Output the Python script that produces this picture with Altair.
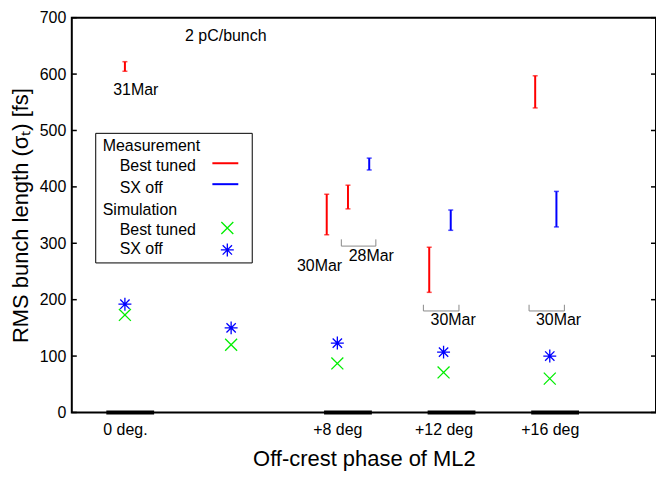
import altair as alt
import pandas as pd

W, H = 586, 396
FONT = "Liberation Sans"

# ---- data ----
sim_phase = [0, 4, 8, 12, 16]
sim_best = [173, 120, 87, 71, 60]
sim_sxoff = [192, 150, 123, 107, 100]

best_x = [0.0, 7.6, 8.4, 11.46, 15.45]
best_lo = [605, 315, 361, 213, 540]
best_hi = [622, 387, 403, 293, 597]

sx_x = [9.2, 12.27, 16.25]
sx_lo = [430, 323, 329]
sx_hi = [451, 359, 392]

bar_start = [-0.7, 7.5, 11.4, 15.3]
bar_end = [1.1, 9.3, 13.2, 17.1]

brk_x1 = [8.15, 11.24, 15.22]
brk_x2 = [9.45, 12.58, 16.55]
brk_lo = [295, 180, 180]
brk_hi = [307, 191, 191]

note_text = ["2 pC/bunch", "31Mar", "30Mar", "28Mar", "30Mar", "30Mar"]
note_x = [3.8, 0.41, 7.33, 9.28, 12.36, 16.33]
note_y = [668, 571, 260, 277.5, 164, 164]

x_tick_vals = [0, 8, 12, 16]
x_tick_labels = ["0 deg.", "+8 deg", "+12 deg", "+16 deg"]
y_tick_vals = [0, 100, 200, 300, 400, 500, 600, 700]

legend_labels = ["Measurement", "Best tuned", "SX off", "Simulation", "Best tuned", "SX off"]

# ---- frames ----
sim_df = pd.DataFrame({"phase": sim_phase, "best": sim_best, "sx": sim_sxoff})
best_df = pd.DataFrame({"x": best_x, "lo": best_lo, "hi": best_hi})
sx_df = pd.DataFrame({"x": sx_x, "lo": sx_lo, "hi": sx_hi})
bar_df = pd.DataFrame({"s": bar_start, "e": bar_end})
brk_df = pd.DataFrame({"x1": brk_x1, "x2": brk_x2, "lo": brk_lo, "hi": brk_hi})
note_df = pd.DataFrame({"t": note_text, "x": note_x, "y": note_y})
ytick_df = pd.DataFrame({"v": y_tick_vals})
one = pd.DataFrame({"_": [0]})

label_expr = " : ".join(
    f"datum.value == {v} ? '{l}'" for v, l in zip(x_tick_vals, x_tick_labels)
) + " : ''"

xscale = alt.Scale(domain=[-2, 20], nice=False, zero=False)
yscale = alt.Scale(domain=[0, 700], nice=False)
xaxis = alt.Axis(values=x_tick_vals, labelExpr=label_expr, ticks=False, tickSize=0,
                 domain=False, grid=False, labelFontSize=16, labelPadding=9,
                 labelColor="black", title="Off-crest phase of ML2", titleFontSize=22,
                 titleFontWeight="normal", titleColor="black", titlePadding=11,
                 labelFont=FONT, titleFont=FONT)
yaxis = alt.Axis(values=y_tick_vals, ticks=False, tickSize=0, domain=False, grid=False,
                 labelFontSize=16, labelPadding=6, labelColor="black",
                 title="RMS bunch length (σₜ) [fs]", titleFontSize=22,
                 titleFontWeight="normal", titleColor="black", titlePadding=7,
                 labelFont=FONT, titleFont=FONT)

def X(f):
    return alt.X(f, type="quantitative", scale=xscale, axis=xaxis)

def Y(f):
    return alt.Y(f, type="quantitative", scale=yscale, axis=yaxis)

layers = []

# inward y ticks on both sides
layers.append(alt.Chart(ytick_df).mark_rule(color="black", strokeWidth=1.5).encode(
    y=Y("v"), x=alt.value(0), x2=alt.value(5)))
layers.append(alt.Chart(ytick_df).mark_rule(color="black", strokeWidth=1.5).encode(
    y=Y("v"), x=alt.value(W - 5), x2=alt.value(W)))

# thick bars on the x axis
layers.append(alt.Chart(bar_df).mark_rule(color="black", strokeWidth=4).encode(
    x=X("s"), x2="e", y=alt.datum(0, scale=yscale, axis=yaxis)))

# brackets
bc = "#8a8a8a"
layers.append(alt.Chart(brk_df).mark_rule(color=bc, strokeWidth=1).encode(
    x=X("x1"), x2="x2", y=Y("lo")))
layers.append(alt.Chart(brk_df).mark_rule(color=bc, strokeWidth=1).encode(
    x=X("x1"), y=Y("lo"), y2="hi"))
layers.append(alt.Chart(brk_df).mark_rule(color=bc, strokeWidth=1).encode(
    x=X("x2"), y=Y("lo"), y2="hi"))

# error bars
for df, col in [(best_df, "#ff0000"), (sx_df, "#0000ff")]:
    layers.append(alt.Chart(df).mark_rule(color=col, strokeWidth=2).encode(
        x=X("x"), y=Y("lo"), y2="hi"))
    for f in ["lo", "hi"]:
        layers.append(alt.Chart(df).mark_tick(color=col, orient="horizontal", size=5,
                                              thickness=1.5).encode(x=X("x"), y=Y(f)))

XSHAPE = "M-1,-1L1,1M-1,1L1,-1"
STAR = "M-1,0L1,0M0,-1L0,1M-0.72,-0.72L0.72,0.72M-0.72,0.72L0.72,-0.72"

layers.append(alt.Chart(sim_df).mark_point(shape=XSHAPE, filled=False, color="#00ee00",
                                           strokeWidth=1.3, size=144, opacity=1).encode(
    x=X("phase"), y=Y("best")))
layers.append(alt.Chart(sim_df).mark_point(shape=STAR, filled=False, color="#0000ff",
                                           strokeWidth=1.3, size=169, opacity=1).encode(
    x=X("phase"), y=Y("sx")))

# annotations
layers.append(alt.Chart(note_df).mark_text(font=FONT, fontSize=16, color="black").encode(
    x=X("x"), y=Y("y"), text="t:N"))

# legend box (pixel layout)
layers.append(alt.Chart(one).mark_rect(fill="white", stroke="black", strokeWidth=1).encode(
    x=alt.value(24), x2=alt.value(181), y=alt.value(116), y2=alt.value(246)))
leg_pos = [(31, 129), (48, 149), (48, 171), (31, 193), (48, 213), (48, 232)]
for lab, (lx, ly) in zip(legend_labels, leg_pos):
    layers.append(alt.Chart(one).mark_text(text=lab, font=FONT, fontSize=16, color="black",
                                           align="left", baseline="middle").encode(
        x=alt.value(lx), y=alt.value(ly)))
layers.append(alt.Chart(one).mark_rule(color="#ff0000", strokeWidth=2).encode(
    x=alt.value(141), x2=alt.value(167), y=alt.value(146)))
layers.append(alt.Chart(one).mark_rule(color="#0000ff", strokeWidth=2).encode(
    x=alt.value(141), x2=alt.value(167), y=alt.value(167)))
layers.append(alt.Chart(one).mark_point(shape=XSHAPE, filled=False, color="#00ee00",
                                        strokeWidth=1.3, size=144, opacity=1).encode(
    x=alt.value(156), y=alt.value(211)))
layers.append(alt.Chart(one).mark_point(shape=STAR, filled=False, color="#0000ff",
                                        strokeWidth=1.3, size=169, opacity=1).encode(
    x=alt.value(156), y=alt.value(233)))

chart = alt.layer(*layers).properties(
    width=W, height=H,
    autosize=alt.AutoSizeParams(type="none"),
    padding={"left": 64, "top": 9, "right": 0, "bottom": 62},
    background="white",
).configure_view(stroke="black", strokeWidth=2)

chart.save("out.html", embed_options={"renderer": "svg", "actions": False})
